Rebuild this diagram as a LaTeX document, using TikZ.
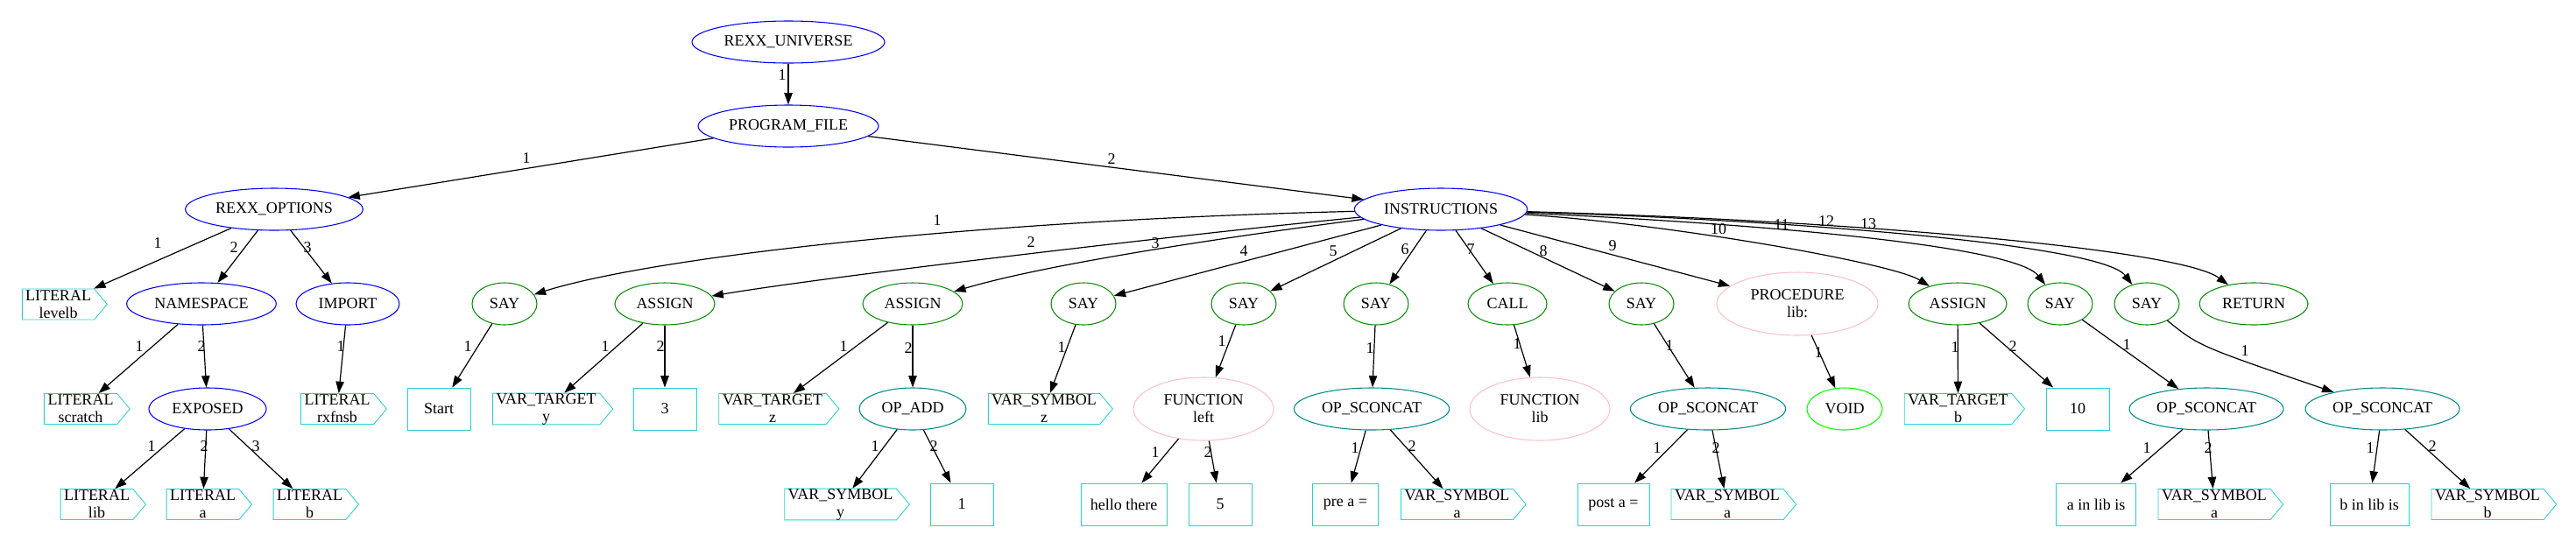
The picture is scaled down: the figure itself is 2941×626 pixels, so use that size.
\documentclass[tikz,border=0pt]{standalone}
\usepackage{fontspec}
\setmainfont{Liberation Serif}
\usepackage{xcolor}
\usepackage{tikz}
\usetikzlibrary{arrows.meta,shapes.geometric,shapes.symbols}
\definecolor{gvblue}{RGB}{0,0,255}
\definecolor{gvgreen}{RGB}{10,140,10}
\definecolor{gvteal}{RGB}{0,139,139}
\definecolor{gvpink}{RGB}{255,192,203}
\definecolor{gvlime}{RGB}{0,255,0}
\definecolor{gvcyan}{RGB}{40,210,210}
\tikzset{
  ell/.style={ellipse,draw,line width=0.8pt,inner sep=0pt,minimum height=36pt,align=center},
  blueell/.style={ell,draw=gvblue},
  greenell/.style={ell,draw=gvgreen},
  tealell/.style={ell,draw=gvteal},
  pinkell/.style={ell,draw=gvpink,minimum height=54pt},
  voidell/.style={ell,draw=gvlime},
  valbox/.style={rectangle,draw=gvcyan,line width=0.65pt,inner sep=2pt,minimum width=54pt,minimum height=36pt},
  cdsbox/.style={signal,signal to=east,signal pointer angle=100,draw=gvcyan,line width=0.65pt,inner sep=0pt,minimum height=26.25pt,align=center,xshift=-4.5pt},
  conn/.style={-{Triangle[length=10pt,width=7pt]},line width=0.9pt},
  lab/.style={inner sep=0pt}
}

\begin{document}
\begin{tikzpicture}[x=0.75pt,y=-0.75pt,font=\fontsize{13.5}{15}\selectfont]
\useasboundingbox (0,0) rectangle (2941,626);
\node[blueell,minimum width=165pt] (univ) at (900,48) {REXX\_UNIVERSE};
\node[blueell,minimum width=154.5pt] (prog) at (900,144) {PROGRAM\_FILE};
\node[blueell,minimum width=152pt] (opts) at (313,239) {REXX\_OPTIONS};
\node[blueell,minimum width=148pt] (instr) at (1645,239) {INSTRUCTIONS};

\node[cdsbox,minimum width=72.75pt] (levelb) at (72.5,347.5) {LITERAL\\levelb};
\node[blueell,minimum width=128pt] (ns) at (230,347) {NAMESPACE};
\node[blueell,minimum width=88.5pt] (imp) at (397,347) {IMPORT};
\node[greenell,minimum width=55.5pt] (say1) at (576,347) {SAY};
\node[greenell,minimum width=85.5pt] (asg1) at (759,347) {ASSIGN};
\node[greenell,minimum width=85.5pt] (asg2) at (1042,347) {ASSIGN};
\node[greenell,minimum width=55.5pt] (say2) at (1237,347) {SAY};
\node[greenell,minimum width=55.5pt] (say3) at (1420,347) {SAY};
\node[greenell,minimum width=55.5pt] (say4) at (1571,347) {SAY};
\node[greenell,minimum width=67.5pt] (call) at (1721,347) {CALL};
\node[greenell,minimum width=55.5pt] (say5) at (1874,347) {SAY};
\node[pinkell,minimum width=138pt] (proc) at (2052,347) {PROCEDURE\\lib:};
\node[greenell,minimum width=84pt] (asg3) at (2235,347) {ASSIGN};
\node[greenell,minimum width=55.5pt] (say6) at (2352,347) {SAY};
\node[greenell,minimum width=55.5pt] (say7) at (2451,347) {SAY};
\node[greenell,minimum width=93pt] (ret) at (2573,347) {RETURN};

\node[cdsbox,minimum width=73.5pt] (scratch) at (98,467) {LITERAL\\scratch};
\node[blueell,minimum width=100.5pt] (expo) at (237,467) {EXPOSED};
\node[cdsbox,minimum width=73.5pt] (rxfnsb) at (391,467) {LITERAL\\rxfnsb};
\node[valbox] (start) at (501,467) {Start};
\node[cdsbox,minimum width=103pt] (vty) at (629.5,467) {VAR\_TARGET\\y};
\node[valbox] (three) at (759,467) {3};
\node[cdsbox,minimum width=103pt] (vtz) at (888,467) {VAR\_TARGET\\z};
\node[tealell,minimum width=91.5pt] (opadd) at (1042,467) {OP\_ADD};
\node[cdsbox,minimum width=106.5pt] (vsz) at (1198,467) {VAR\_SYMBOL\\z};
\node[pinkell,minimum width=120pt] (funleft) at (1374,467) {FUNCTION\\left};
\node[tealell,minimum width=133pt] (cat1) at (1566,467) {OP\_SCONCAT};
\node[pinkell,minimum width=120pt] (funlib) at (1758,467) {FUNCTION\\lib};
\node[tealell,minimum width=133pt] (cat2) at (1950,467) {OP\_SCONCAT};
\node[voidell,minimum width=64.5pt] (void) at (2106,467) {VOID};
\node[cdsbox,minimum width=103pt] (vtb) at (2241.5,467) {VAR\_TARGET\\b};
\node[valbox] (ten) at (2372,467) {10};
\node[tealell,minimum width=132pt] (cat3) at (2519,467) {OP\_SCONCAT};
\node[tealell,minimum width=132pt] (cat4) at (2720,467) {OP\_SCONCAT};

\node[cdsbox,minimum width=73pt] (llib) at (116.5,576) {LITERAL\\lib};
\node[cdsbox,minimum width=73pt] (la) at (237.5,576) {LITERAL\\a};
\node[cdsbox,minimum width=73pt] (lb) at (359.5,576) {LITERAL\\b};
\node[cdsbox,minimum width=107pt] (vsy) at (965.5,576) {VAR\_SYMBOL\\y};
\node[valbox] (one) at (1098,576) {1};
\node[valbox,minimum width=73.5pt] (hello) at (1283,576) {hello there};
\node[valbox] (five) at (1393,576) {5};
\node[valbox,minimum width=56pt] (pre) at (1536,576) {pre a =};
\node[cdsbox,minimum width=107pt] (vsa1) at (1669.5,576) {VAR\_SYMBOL\\a};
\node[valbox,minimum width=61.5pt] (post) at (1842,576) {post a =};
\node[cdsbox,minimum width=107pt] (vsa2) at (1978,576) {VAR\_SYMBOL\\a};
\node[valbox,minimum width=68pt] (ainlib) at (2393,576) {a in lib is};
\node[cdsbox,minimum width=107pt] (vsa3) at (2534,576) {VAR\_SYMBOL\\a};
\node[valbox,minimum width=67.5pt] (binlib) at (2705,576) {b in lib is};
\node[cdsbox,minimum width=107pt] (vsb) at (2846,576) {VAR\_SYMBOL\\b};

\draw[conn] (univ) -- (prog) node[lab] at (893,86) {1};
\draw[conn] (prog) -- (opts) node[lab] at (601,181) {1};
\draw[conn] (prog) -- (instr) node[lab] at (1269,182) {2};
\draw[conn] (opts) -- (levelb) node[lab] at (180,278) {1};
\draw[conn] (opts) -- (ns) node[lab] at (267,283) {2};
\draw[conn] (opts) -- (imp) node[lab] at (351,283) {3};
\draw[conn] (ns) -- (scratch) node[lab] at (159,396) {1};
\draw[conn] (ns) -- (expo) node[lab] at (230,396) {2};
\draw[conn] (imp) -- (rxfnsb) node[lab] at (389,396) {1};
\draw[conn] (expo) -- (llib) node[lab] at (173,510) {1};
\draw[conn] (expo) -- (la) node[lab] at (233,510) {2};
\draw[conn] (expo) -- (lb) node[lab] at (292,510) {3};

\draw[conn] (instr) .. controls (1100,252) and (740,295) .. (say1) node[lab] at (1070,252) {1};
\draw[conn] (instr) .. controls (1350,268) and (950,315) .. (asg1) node[lab] at (1177,277) {2};
\draw[conn] (instr) .. controls (1420,268) and (1200,300) .. (asg2) node[lab] at (1319,278) {3};
\draw[conn] (instr) -- (say2) node[lab] at (1420,287) {4};
\draw[conn] (instr) -- (say3) node[lab] at (1522,287) {5};
\draw[conn] (instr) -- (say4) node[lab] at (1604,285) {6};
\draw[conn] (instr) -- (call) node[lab] at (1679,285) {7};
\draw[conn] (instr) -- (say5) node[lab] at (1762,287) {8};
\draw[conn] (instr) -- (proc) node[lab] at (1841,281) {9};
\draw[conn] (instr) .. controls (1900,255) and (2160,300) .. (asg3) node[lab] at (1962,262) {10};
\draw[conn] (instr) .. controls (2000,255) and (2300,280) .. (say6) node[lab] at (2034,257) {11};
\draw[conn] (instr) .. controls (2060,252) and (2400,280) .. (say7) node[lab] at (2085,253) {12};
\draw[conn] (instr) .. controls (2120,252) and (2490,285) .. (ret) node[lab] at (2133,256) {13};

\draw[conn] (say1) -- (start) node[lab] at (534,396) {1};
\draw[conn] (asg1) -- (vty) node[lab] at (691,396) {1};
\draw[conn] (asg1) -- (three) node[lab] at (754,396) {2};
\draw[conn] (asg2) -- (vtz) node[lab] at (963,396) {1};
\draw[conn] (asg2) -- (opadd) node[lab] at (1037,398) {2};
\draw[conn] (opadd) -- (vsy) node[lab] at (999,510) {1};
\draw[conn] (opadd) -- (one) node[lab] at (1066,510) {2};
\draw[conn] (say2) -- (vsz) node[lab] at (1212,397) {1};
\draw[conn] (say3) -- (funleft) node[lab] at (1395,390) {1};
\draw[conn] (funleft) -- (hello) node[lab] at (1319,517) {1};
\draw[conn] (funleft) -- (five) node[lab] at (1379,517) {2};
\draw[conn] (say4) -- (cat1) node[lab] at (1564,398) {1};
\draw[conn] (cat1) -- (pre) node[lab] at (1547,512) {1};
\draw[conn] (cat1) -- (vsa1) node[lab] at (1612,510) {2};
\draw[conn] (call) -- (funlib) node[lab] at (1732,393) {1};
\draw[conn] (say5) -- (cat2) node[lab] at (1906,395) {1};
\draw[conn] (cat2) -- (post) node[lab] at (1892,512) {1};
\draw[conn] (cat2) -- (vsa2) node[lab] at (1959,512) {2};
\draw[conn] (proc) -- (void) node[lab] at (2076,403) {1};
\draw[conn] (asg3) -- (vtb) node[lab] at (2232,397) {1};
\draw[conn] (asg3) -- (ten) node[lab] at (2298,396) {2};
\draw[conn] (say6) -- (cat3) node[lab] at (2428,394) {1};
\draw[conn] (say7) .. controls (2510,395) .. (cat4) node[lab] at (2563,401) {1};
\draw[conn] (cat3) -- (ainlib) node[lab] at (2451,512) {1};
\draw[conn] (cat3) -- (vsa3) node[lab] at (2521,512) {2};
\draw[conn] (cat4) -- (binlib) node[lab] at (2706,512) {1};
\draw[conn] (cat4) -- (vsb) node[lab] at (2777,510) {2};
\end{tikzpicture}
\end{document}
